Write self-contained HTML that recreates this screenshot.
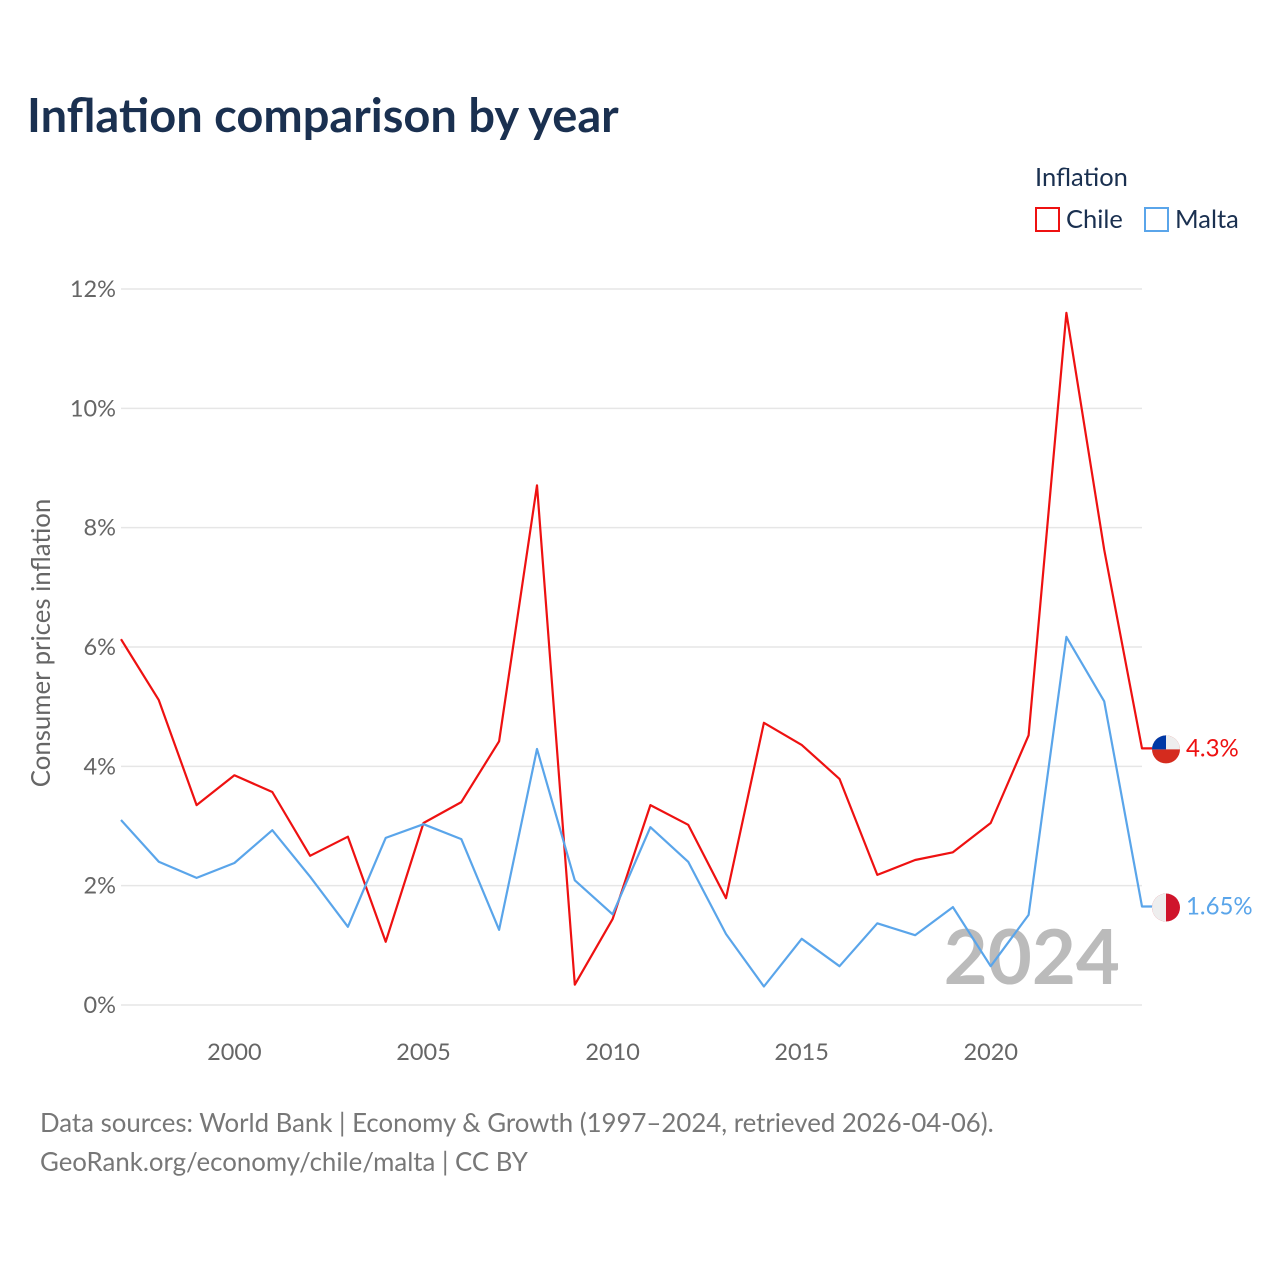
<!DOCTYPE html>
<html><head><meta charset="utf-8"><style>
body{margin:0;background:#fff;font-family:"Liberation Sans",sans-serif}
svg text{font-family:"Lato","Liberation Sans",sans-serif}
</style></head><body>
<svg id="chart" width="1280" height="1280" viewBox="0 0 1280 1280">
<text x="27" y="132" font-size="47" font-weight="bold" fill="#1a3050">Inflation comparison by year</text>
<g>
<text x="1035" y="186" font-size="25.5" fill="#1a3050">Inflation</text>
<g><rect x="1036" y="208" width="23" height="23" fill="none" stroke="#ee1111" stroke-width="2"/><text x="1066" y="228" font-size="25.5" fill="#1a3050">Chile</text></g>
<g><rect x="1145" y="208" width="23" height="23" fill="none" stroke="#5aa5ea" stroke-width="2"/><text x="1175" y="228" font-size="25.5" fill="#1a3050">Malta</text></g>
</g>
<g id="grid"></g>
<g id="yticks"></g>
<g id="xticks"></g>
<text transform="translate(50,643) rotate(-90)" font-size="25.8" fill="#666" text-anchor="middle">Consumer prices inflation</text>
<text x="1120" y="984" font-size="76" font-weight="bold" fill="#bbb" text-anchor="end">2024</text>
<g id="series"></g>
<text x="40" y="1132" font-size="25.8" fill="#777">Data sources: World Bank | Economy &amp; Growth (1997–2024, retrieved 2026-04-06).</text>
<text x="40" y="1171" font-size="25.8" fill="#777">GeoRank.org/economy/chile/malta | CC BY</text>
</svg>
<script>
const years=[1997,1998,1999,2000,2001,2002,2003,2004,2005,2006,2007,2008,2009,2010,2011,2012,2013,2014,2015,2016,2017,2018,2019,2020,2021,2022,2023,2024];
const chile=[6.13,5.11,3.35,3.85,3.57,2.50,2.82,1.06,3.05,3.40,4.42,8.71,0.34,1.44,3.35,3.02,1.79,4.73,4.36,3.79,2.18,2.43,2.56,3.05,4.52,11.6,7.63,4.3];
const malta=[3.10,2.40,2.13,2.38,2.93,2.15,1.31,2.80,3.03,2.78,1.26,4.29,2.09,1.52,2.98,2.40,1.19,0.31,1.11,0.65,1.37,1.17,1.64,0.65,1.51,6.17,5.09,1.65];
const yTicks=[0,2,4,6,8,10,12];
const xTicks=[2000,2005,2010,2015,2020];
const NS="http://www.w3.org/2000/svg";
const X=y=>121+(y-1997)*(1142-121)/27;
const Y=v=>1005-v*(1005-289)/12;
function el(t,a,p){const e=document.createElementNS(NS,t);for(const k in a)e.setAttribute(k,a[k]);p.appendChild(e);return e;}
const grid=document.getElementById('grid'),yt=document.getElementById('yticks'),xt=document.getElementById('xticks'),ser=document.getElementById('series');
yTicks.forEach(v=>{
 const l=el('line',{x1:121,x2:1142,y1:Y(v),y2:Y(v),stroke:'#e6e6e6','stroke-width':1.5},grid);
 
 
 const t=el('text',{x:116,y:Y(v)+8,'font-size':23.5,fill:'#666','text-anchor':'end'},yt);t.textContent=v+'%';
 
 
});
xTicks.forEach(v=>{
 const t=el('text',{x:X(v),y:1060,'font-size':23.5,fill:'#666','text-anchor':'middle'},xt);t.textContent=v;
 
 
});
function draw(vals,color,name,label,flag){
 let d=vals.map((v,i)=>(i?'L':'M')+X(years[i]).toFixed(1)+','+Y(v).toFixed(1)).join(' ');
 const last=vals[vals.length-1];
 d+=' L'+(X(2024)+10)+','+Y(last).toFixed(1);
 const p=el('path',{d:d,fill:'none',stroke:color,'stroke-width':2.2,'stroke-linejoin':'round'},ser);
 
 
 const g=el('g',{},ser);
 
 
 const cx=1166,cy=Y(last)+1;
 if(flag==='cl'){
  el('circle',{cx:cx,cy:cy,r:14,fill:'#d52b1e'},g);
  el('path',{d:`M${cx-14},${cy} A14,14 0 0 1 ${cx+14},${cy} Z`,fill:'#eee'},g);
  el('path',{d:`M${cx-14},${cy} A14,14 0 0 1 ${cx},${cy-14} L${cx},${cy} Z`,fill:'#0039a6'},g);
 }else{
  el('circle',{cx:cx,cy:cy,r:14,fill:'#cf142b'},g);
  el('path',{d:`M${cx},${cy-14} A14,14 0 0 0 ${cx},${cy+14} Z`,fill:'#eee'},g);
 }
 const t=el('text',{x:1186,y:Y(last)+8,'font-size':24,fill:color},g);t.textContent=label;
}
draw(chile,'#ee1111','chile','4.3%','cl');
draw(malta,'#5aa5ea','malta','1.65%','mt');
</script>
</body></html>
